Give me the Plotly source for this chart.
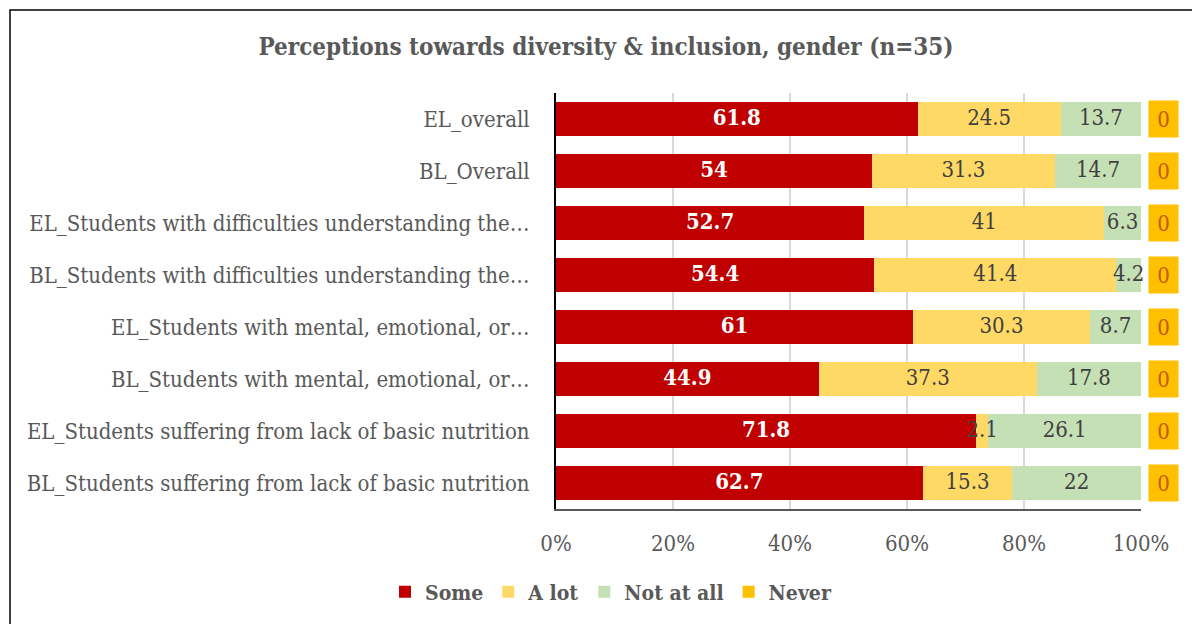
import plotly.graph_objects as go

categories = [
    "EL_overall",
    "BL_Overall",
    "EL_Students with difficulties understanding the…",
    "BL_Students with difficulties understanding the…",
    "EL_Students with mental, emotional, or…",
    "BL_Students with mental, emotional, or…",
    "EL_Students suffering from lack of basic nutrition",
    "BL_Students suffering from lack of basic nutrition",
]
some = [61.8, 54, 52.7, 54.4, 61, 44.9, 71.8, 62.7]
a_lot = [24.5, 31.3, 41, 41.4, 30.3, 37.3, 2.1, 15.3]
not_at_all = [13.7, 14.7, 6.3, 4.2, 8.7, 17.8, 26.1, 22]
never = [0, 0, 0, 0, 0, 0, 0, 0]

FONT = "DejaVu Serif Condensed, DejaVu Serif, Liberation Serif, serif"
GRAY = "#595959"
DARK = "#404040"
LBL = 22

fig = go.Figure()
series = [
    ("Some", some, "#C00000", dict(color="white", size=LBL, family=FONT, weight="bold"), True),
    ("A lot", a_lot, "#FFD966", dict(color=DARK, size=LBL, family=FONT), True),
    ("Not at all", not_at_all, "#C5E0B4", dict(color=DARK, size=LBL, family=FONT), True),
    ("Never", never, "#FFC000", None, False),
]
for name, vals, col, tf, show_text in series:
    fig.add_trace(go.Bar(
        y=categories, x=vals, name=name, orientation="h",
        marker=dict(color=col, line=dict(width=0)),
        textposition="none",
    ))

# Data labels centred in each segment, drawn on top of all bars
base = [0.0] * len(categories)
for name, vals, col, tf, show_text in series:
    mids = [b + v / 2 for b, v in zip(base, vals)]
    if show_text:
        fig.add_trace(go.Scatter(
            x=mids, y=categories, mode="text",
            text=[f"{v:g}" for v in vals], textposition="middle center",
            textfont=tf, showlegend=False, cliponaxis=False, hoverinfo="skip",
        ))
    base = [b + v for b, v in zip(base, vals)]

# Data labels for the zero-valued "Never" series, shown past the bar ends
for i, cat in enumerate(categories):
    total = some[i] + a_lot[i] + not_at_all[i] + never[i]
    fig.add_annotation(
        x=total, y=cat, xref="x", yref="y",
        text=f"{never[i]:g}", showarrow=False,
        xanchor="left", xshift=7,
        bgcolor="#FFC000", width=27, height=34,
        font=dict(color="#C55A11", size=LBL, family=FONT),
    )

W, H = 1192, 624
L, R, T, B = 556, 51, 93, 115
pw, ph = W - L - R, H - T - B

def px_x(px):
    return (px - L) / pw

def px_y(py):
    return (H - B - py) / ph

# outer chart frame
fig.add_shape(type="rect", xref="paper", yref="paper",
              x0=px_x(10), x1=px_x(1210), y0=px_y(640), y1=px_y(10),
              line=dict(color="black", width=1.5), fillcolor="rgba(0,0,0,0)", layer="below")

fig.update_layout(
    width=W, height=H,
    margin=dict(l=L, r=R, t=T, b=B),
    barmode="stack", bargap=0.35,
    plot_bgcolor="white", paper_bgcolor="white",
    title=dict(text="<b>Perceptions towards diversity & inclusion, gender (n=35)</b>",
               x=px_x(606), xanchor="center", xref="paper",
               y=1 - 47 / H, yanchor="middle",
               font=dict(size=24, color=GRAY, family=FONT)),
    legend=dict(orientation="h", x=px_x(611), xanchor="center", y=px_y(592), yanchor="middle",
                font=dict(size=21, color=GRAY, family=FONT, weight="bold"),
                itemsizing="constant", traceorder="normal", itemwidth=30),
    xaxis=dict(range=[0, 100], tickvals=[0, 20, 40, 60, 80, 100],
               ticktext=["0%", "20%", "40%", "60%", "80%", "100%"],
               showgrid=True, gridcolor="#D9D9D9", gridwidth=1.5,
               zeroline=False, showline=True, linecolor="#595959", linewidth=1.5,
               tickfont=dict(size=22, color=GRAY, family=FONT), ticklabelstandoff=14),
    yaxis=dict(autorange="reversed", showline=True, linecolor="black", linewidth=2,
               showgrid=False,
               tickfont=dict(size=22, color=GRAY, family=FONT), ticklabelstandoff=20),
    hovermode=False,
)

fig.write_html("out.html")
